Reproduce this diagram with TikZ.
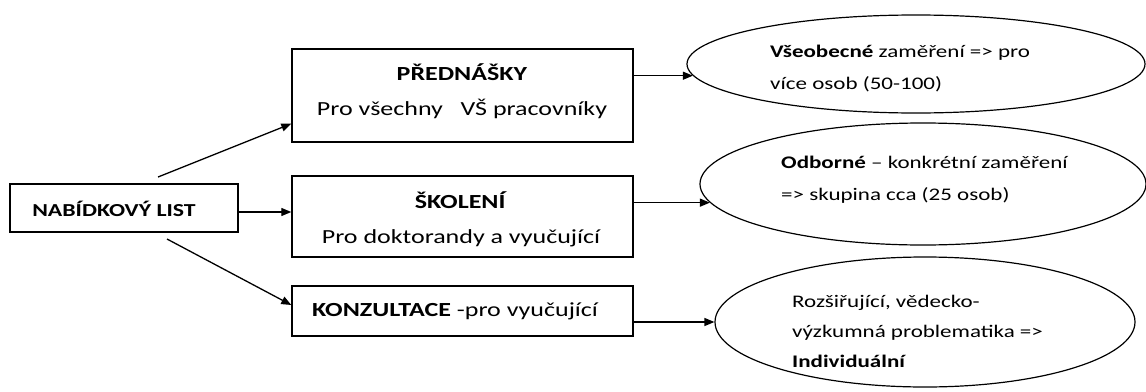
\documentclass[tikz,border=0pt]{standalone}
\usepackage{fontspec}
\setmainfont{Carlito}[FakeStretch=1.3]
\usetikzlibrary{shapes.geometric,arrows.meta}
\begin{document}
\begin{tikzpicture}[x=1pt,y=-1pt,
  box/.style={draw,line width=1.4pt,rectangle,inner sep=0pt},
  oval/.style={draw,line width=1.2pt,ellipse,inner sep=0pt},
  conn/.style={line width=1.3pt,-{Triangle[length=10pt,width=8pt]}},
  boxtext/.style={font=\fontsize{20}{35}\selectfont,align=center,inner sep=0pt},
  ovaltext/.style={font=\fontsize{17.7}{32}\selectfont,align=left,anchor=west,inner sep=0pt}]
\useasboundingbox (0,0) rectangle (1146,391);
% boxes
\node[box,minimum width=228pt,minimum height=48pt] (nl) at (124,208) {};
\node[box,minimum width=341pt,minimum height=93pt] (pr) at (462.5,95.5) {};
\node[box,minimum width=341pt,minimum height=81pt] (sk) at (462.5,216.5) {};
\node[box,minimum width=341pt,minimum height=50pt] (ko) at (462.5,311) {};
% ellipses
\node[oval,minimum width=458pt,minimum height=98pt] (e1) at (916,64) {};
\node[oval,minimum width=446pt,minimum height=122pt] (e2) at (923,184) {};
\node[oval,minimum width=420pt,minimum height=130pt] (e3) at (925,322) {};
% texts
\node[boxtext,font=\fontsize{18.3}{35}\selectfont] (tnl) at (114,209) {\textbf{NABÍDKOVÝ LIST}};
\node[boxtext] (tpr) at (462,91) {\textbf{PŘEDNÁŠKY}\\Pro všechny \ \ VŠ pracovníky};
\node[boxtext] (tsk) at (461,219) {\textbf{ŠKOLENÍ}\\Pro doktorandy a vyučující};
\node[boxtext] (tko) at (455,311) {\textbf{KONZULTACE} -pro vyučující};
\node[ovaltext] (t1) at (770,69) {\textbf{Všeobecné} zaměření => pro\\více osob (50-100)};
\node[ovaltext] (t2) at (781,180) {\textbf{Odborné} – konkrétní zaměření\\=> skupina cca (25 osob)};
\node[ovaltext,font=\fontsize{17.7}{30}\selectfont] (t3) at (792,331) {Rozšiřující, vědecko-\\výzkumná problematika =>\\\textbf{Individuální}};
% connectors
\coordinate (s1) at (158,177);
\coordinate (s3) at (167,239);
\draw[conn] (s1) -- ([yshift=19pt]pr.south west);
\draw[conn] ([yshift=-4pt]nl.east) -- ([yshift=-4pt]nl.east -| sk.west);
\draw[conn] (s3) -- ([yshift=6pt]ko.west);
\draw[conn] (pr.east |- e1.183) -- (e1.183);
\draw[conn] (sk.east |- e2.185) -- (e2.185);
\draw[conn] (ko.east |- e3.west) -- (e3.west);
\end{tikzpicture}
\end{document}
